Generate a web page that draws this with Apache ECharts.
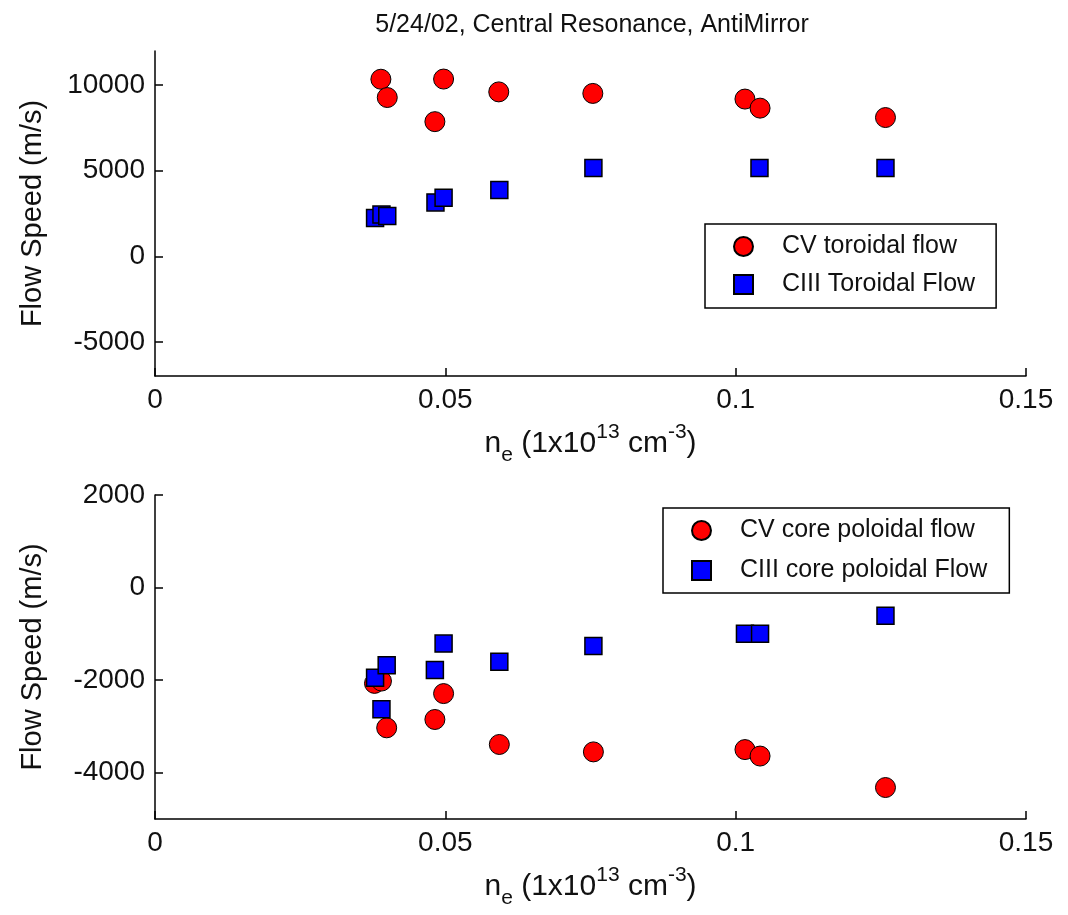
<!DOCTYPE html>
<html>
<head>
<meta charset="utf-8">
<title>Central Resonance flow speeds</title>
<script src="https://cdn.jsdelivr.net/npm/echarts@6/dist/echarts.min.js"></script>
<style>
  html, body { margin: 0; padding: 0; background: #fff; }
  #chart { width: 1068px; height: 915px; }
</style>
</head>
<body>
<div id="chart"></div>
<script>
// Toroidal flow (upper panel)
const cvToroidalNe    = [0.0389, 0.0400, 0.0482, 0.0497, 0.0592, 0.0754, 0.1016, 0.1042, 0.1258];
const cvToroidalSpeed = [10350, 9280, 7870, 10360, 9610, 9520, 9190, 8660, 8110];
const ciiiToroidalNe    = [0.0379, 0.0390, 0.0400, 0.0483, 0.0497, 0.0593, 0.0755, 0.1041, 0.1258];
const ciiiToroidalSpeed = [2230, 2440, 2350, 3150, 3420, 3870, 5160, 5160, 5160];

// Core poloidal flow (lower panel)
const cvPoloidalNe    = [0.0378, 0.0390, 0.0399, 0.0482, 0.0497, 0.0593, 0.0755, 0.1016, 0.1042, 0.1258];
const cvPoloidalSpeed = [-2070, -2020, -3030, -2850, -2290, -3390, -3550, -3500, -3640, -4320];
const ciiiPoloidalNe    = [0.0379, 0.0390, 0.0399, 0.0482, 0.0497, 0.0593, 0.0755, 0.1016, 0.1042, 0.1258];
const ciiiPoloidalSpeed = [-1950, -2630, -1680, -1780, -1210, -1600, -1260, -1000, -1000, -610];

// Axis tick labels
const xTicks = [0, 0.05, 0.1, 0.15];
const yTicksTop = [-5000, 0, 5000, 10000];
const yTicksBottom = [-4000, -2000, 0, 2000];

const titleText = '5/24/02, Central Resonance, AntiMirror';
const yName = 'Flow Speed (m/s)';
const seriesNames = ['CV toroidal flow', 'CIII Toroidal Flow', 'CV core poloidal flow', 'CIII core poloidal Flow'];

const FONT = '"Liberation Sans", Arial, Helvetica, sans-serif';
const zip = (xs, ys) => xs.map((x, i) => [x, ys[i]]);

const neName = '{n|n}{sub|e}{n| (1x10}{sup|13}{n| cm}{sup|-3}{n|)}';
const neRich = {
  n:   { fontSize: 30, fontFamily: FONT, color: '#111', lineHeight: 44, verticalAlign: 'middle' },
  sub: { fontSize: 21, fontFamily: FONT, color: '#111', verticalAlign: 'bottom' },
  sup: { fontSize: 21, fontFamily: FONT, color: '#111', verticalAlign: 'top' }
};

const axisLine = { show: true, onZero: false, lineStyle: { color: '#000', width: 1.5 } };

function xAxisFor(gridIndex) {
  return {
    type: 'value', gridIndex, min: 0, max: 0.15, interval: 0.05,
    axisLine, splitLine: { show: false },
    axisTick: { show: true, inside: true, length: 8, customValues: xTicks, lineStyle: { color: '#000', width: 1.5 } },
    axisLabel: {
      fontSize: 28, fontFamily: FONT, color: '#111', margin: 10, customValues: xTicks,
      formatter: v => String(parseFloat(Number(v).toFixed(3)))
    },
    name: neName, nameLocation: 'middle', nameGap: 46,
    nameTextStyle: { rich: neRich }
  };
}

function yAxisFor(gridIndex, min, max, ticks) {
  return {
    type: 'value', gridIndex, min, max,
    axisLine, splitLine: { show: false },
    axisTick: { show: true, inside: true, length: 8, customValues: ticks, lineStyle: { color: '#000', width: 1.5 } },
    axisLabel: {
      fontSize: 28, fontFamily: FONT, color: '#111', margin: 10, customValues: ticks,
      formatter: v => String(v)
    },
    name: yName, nameLocation: 'middle', nameGap: 108, nameRotate: 90,
    nameTextStyle: { fontSize: 29, fontFamily: FONT, color: '#111' }
  };
}

const circleStyle = { color: '#ff0000', borderColor: '#000', borderWidth: 1, opacity: 1 };
const squareStyle = { color: '#0000ff', borderColor: '#000', borderWidth: 1.5, opacity: 1 };

function legendFor(names, left, top, padding, gap) {
  return {
    data: names, orient: 'vertical', left, top, padding, itemGap: gap,
    itemWidth: 19, itemHeight: 19,
    borderColor: '#000', borderWidth: 1.5, backgroundColor: '#fff',
    formatter: name => '{g|}' + name,
    textStyle: { fontSize: 25, fontFamily: FONT, color: '#111', rich: { g: { width: 24 } } }
  };
}

const chart = echarts.init(document.getElementById('chart'), null, { renderer: 'canvas' });
chart.setOption({
  animation: false,
  backgroundColor: '#fff',
  title: {
    text: titleText, left: 587, top: 8, textAlign: 'center',
    textStyle: { fontSize: 25, fontWeight: 'normal', fontFamily: FONT, color: '#111' }
  },
  grid: [
    { left: 155, top: 51, width: 871, height: 325 },
    { left: 155, top: 495, width: 871, height: 324 }
  ],
  xAxis: [xAxisFor(0), xAxisFor(1)],
  yAxis: [
    yAxisFor(0, -7000, 12000, yTicksTop),
    yAxisFor(1, -5000, 2000, yTicksBottom)
  ],
  legend: [
    legendFor([seriesNames[0], seriesNames[1]], 705, 224, [10, 21, 11, 28], 13),
    legendFor([seriesNames[2], seriesNames[3]], 663, 508, [10, 22, 10, 28], 15)
  ],
  series: [
    { name: seriesNames[0], type: 'scatter', xAxisIndex: 0, yAxisIndex: 0, symbol: 'circle', symbolSize: 20,
      itemStyle: circleStyle, data: zip(cvToroidalNe, cvToroidalSpeed) },
    { name: seriesNames[1], type: 'scatter', xAxisIndex: 0, yAxisIndex: 0, symbol: 'rect', symbolSize: 17,
      itemStyle: squareStyle, data: zip(ciiiToroidalNe, ciiiToroidalSpeed) },
    { name: seriesNames[2], type: 'scatter', xAxisIndex: 1, yAxisIndex: 1, symbol: 'circle', symbolSize: 20,
      itemStyle: circleStyle, data: zip(cvPoloidalNe, cvPoloidalSpeed) },
    { name: seriesNames[3], type: 'scatter', xAxisIndex: 1, yAxisIndex: 1, symbol: 'rect', symbolSize: 17,
      itemStyle: squareStyle, data: zip(ciiiPoloidalNe, ciiiPoloidalSpeed) }
  ]
});
</script>
</body>
</html>
